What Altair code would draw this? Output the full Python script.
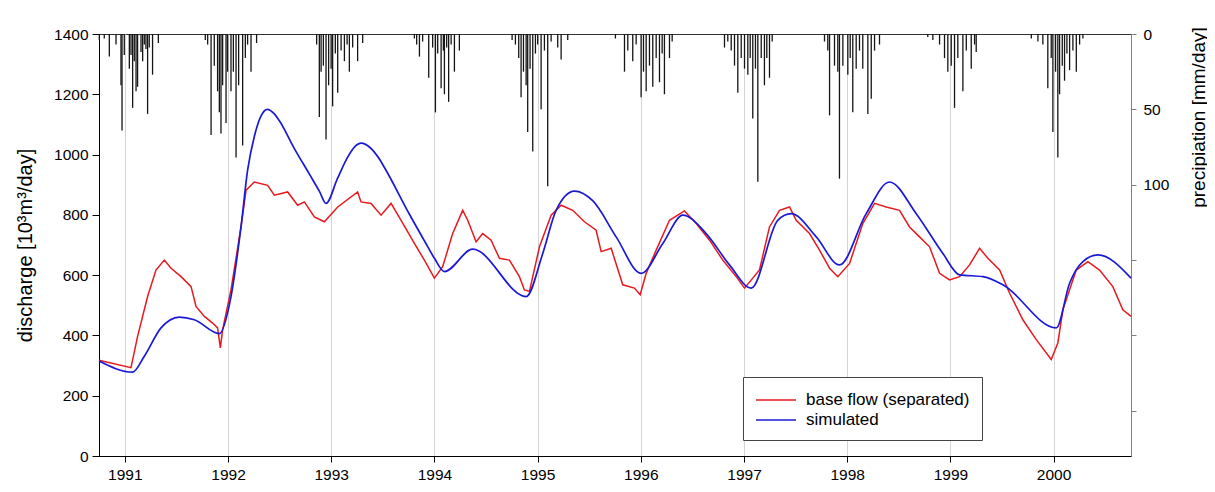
import altair as alt
import pandas as pd

FONT = "Liberation Sans"
RED = "#E8191E"
BLUE = "#1A1AD6"
YEARS = [1991, 1992, 1993, 1994, 1995, 1996, 1997, 1998, 1999, 2000]
SERIES = ["base flow (separated)", "simulated"]

# base flow (separated) - decimal year / discharge [10^3 m3/day]
base_t = [1990.75, 1991.060, 1991.124, 1991.221, 1991.302, 1991.383, 1991.448, 1991.545, 1991.642,
          1991.690, 1991.771, 1991.851, 1991.899, 1991.926, 1991.948, 1992.029, 1992.126, 1992.175,
          1992.255, 1992.384, 1992.449, 1992.578, 1992.675, 1992.740, 1992.837, 1992.934, 1993.063,
          1993.256, 1993.289, 1993.386, 1993.483, 1993.580, 1993.677, 1993.806, 1993.903, 1994.000,
          1994.080, 1994.177, 1994.274, 1994.323, 1994.404, 1994.468, 1994.549, 1994.630, 1994.727,
          1994.824, 1994.872, 1994.921, 1995.018, 1995.131, 1995.228, 1995.340, 1995.454, 1995.567,
          1995.616, 1995.713, 1995.825, 1995.938, 1995.994, 1996.052, 1996.149, 1996.278, 1996.423,
          1996.537, 1996.666, 1996.794, 1996.924, 1997.005, 1997.150, 1997.247, 1997.344, 1997.441,
          1997.506, 1997.635, 1997.732, 1997.829, 1997.909, 1998.023, 1998.151, 1998.265, 1998.378,
          1998.507, 1998.604, 1998.701, 1998.798, 1998.895, 1998.992, 1999.089, 1999.186, 1999.283,
          1999.363, 1999.477, 1999.574, 1999.702, 1999.832, 1999.977, 2000.041, 2000.090, 2000.219,
          2000.332, 2000.445, 2000.574, 2000.671, 2000.75]
base_q = [318, 293, 397, 529, 617, 650, 623, 595, 562,
          496, 463, 441, 425, 359, 419, 551, 760, 882,
          909, 898, 865, 876, 832, 843, 793, 777, 826,
          876, 843, 838, 799, 838, 782, 705, 650, 590,
          628, 738, 815, 782, 711, 738, 716, 656, 650,
          595, 551, 546, 694, 799, 832, 815, 777, 749,
          678, 689, 568, 557, 535, 606, 683, 782, 813,
          771, 716, 650, 595, 557, 617, 760, 815, 826,
          782, 738, 683, 623, 595, 639, 771, 838, 826,
          815, 760, 727, 694, 606, 584, 595, 634, 689,
          656, 617, 540, 452, 386, 320, 375, 485, 617,
          645, 617, 562, 485, 463]

# simulated
sim_t = [1990.75, 1991.076, 1991.189, 1991.351, 1991.528, 1991.674, 1991.916, 1992.029, 1992.126,
         1992.190, 1992.255, 1992.323, 1992.381, 1992.449, 1992.498, 1992.643, 1992.789, 1992.886,
         1992.950, 1993.060, 1993.157, 1993.225, 1993.293, 1993.370, 1993.467, 1993.516, 1993.758,
         1993.903, 1994.000, 1994.097, 1994.371, 1994.889, 1995.050, 1995.179, 1995.357, 1995.534,
         1995.761, 1996.003, 1996.213, 1996.407, 1996.633, 1996.859, 1997.070, 1997.327, 1997.457,
         1997.700, 1997.925, 1998.184, 1998.410, 1998.669, 1998.927, 1999.089, 1999.315, 1999.509,
         2000.026, 2000.155, 2000.284, 2000.430, 2000.75]
sim_q = [315, 278, 331, 425, 461, 452, 406, 529, 760,
         948, 1060, 1130, 1150, 1135, 1112, 1020, 935, 878,
         838, 920, 990, 1025, 1038, 1025, 985, 957, 802,
         714, 656, 612, 686, 529, 672, 815, 879, 847,
         727, 606, 705, 799, 738, 634, 557, 782, 804,
         727, 634, 804, 909, 804, 672, 601, 595, 568,
         425, 573, 645, 667, 590]

# precipitation [mm/day]
rain_t = [1990.753, 1990.801, 1990.850, 1990.915, 1990.963, 1990.973, 1990.995, 1991.044, 1991.060,
          1991.076, 1991.092, 1991.109, 1991.124, 1991.157, 1991.173, 1991.189, 1991.205, 1991.221,
          1991.237, 1991.269, 1991.325,
          1991.780, 1991.803, 1991.836, 1991.867, 1991.899, 1991.916, 1991.932, 1991.948, 1991.981,
          1991.996, 1992.029, 1992.052, 1992.078, 1992.103, 1992.142, 1992.168, 1992.190, 1992.223,
          1992.277,
          1992.859, 1992.885, 1992.902, 1992.924, 1992.950, 1992.975, 1992.999, 1993.014, 1993.040,
          1993.063, 1993.096, 1993.128, 1993.154, 1993.176, 1993.208, 1993.256, 1993.305,
          1993.806, 1993.828, 1993.855, 1993.886, 1993.945, 1993.983, 1994.010, 1994.032, 1994.065,
          1994.087, 1994.097, 1994.119, 1994.138, 1994.162, 1994.194, 1994.242,
          1994.753, 1994.785, 1994.817, 1994.840, 1994.863, 1994.889, 1994.904, 1994.927, 1994.953,
          1994.979, 1995.001, 1995.034, 1995.066, 1995.098, 1995.131, 1995.195, 1995.228, 1995.292,
          1995.754, 1995.842, 1995.874, 1995.922, 1995.955, 1996.003, 1996.026, 1996.052, 1996.084,
          1996.116, 1996.149, 1996.181, 1996.207, 1996.229, 1996.278, 1996.304,
          1996.811, 1996.843, 1996.876, 1996.908, 1996.940, 1996.973, 1997.005, 1997.037, 1997.060,
          1997.085, 1997.111, 1997.134, 1997.167, 1997.198, 1997.221, 1997.247, 1997.273,
          1997.780, 1997.812, 1997.829, 1997.877, 1997.909, 1997.925, 1997.958, 1998.006, 1998.029,
          1998.054, 1998.087, 1998.119, 1998.151, 1998.200, 1998.233, 1998.265, 1998.313,
          1998.781, 1998.830, 1998.895, 1998.943, 1998.975, 1999.008, 1999.040, 1999.072, 1999.121,
          1999.154, 1999.202, 1999.234, 1999.250,
          1999.784, 1999.848, 1999.896, 1999.944, 1999.977, 1999.993, 2000.019, 2000.041, 2000.058,
          2000.084, 2000.106, 2000.129, 2000.155, 2000.187, 2000.220, 2000.252, 2000.284]
rain_mm = [4, 3, 15, 7, 34, 64, 14, 23, 14,
           49, 18, 38, 35, 12, 18, 7, 10, 53,
           9, 27, 6,
           4, 7, 67, 21, 38, 52, 66, 34, 59,
           25, 38, 25, 82, 34, 74, 16, 7, 25,
           6,
           7, 55, 25, 21, 70, 34, 23, 48, 13,
           39, 11, 18, 7, 25, 9, 18, 6,
           3, 7, 15, 5, 29, 9, 52, 13, 36,
           11, 40, 9, 45, 7, 25, 11,
           4, 7, 16, 42, 25, 34, 65, 23, 78,
           13, 7, 50, 11, 101, 5, 9, 17, 4,
           3, 25, 11, 18, 7, 42, 25, 38, 21,
           35, 16, 32, 13, 40, 16, 5,
           9, 5, 11, 21, 39, 16, 23, 27, 16,
           56, 23, 98, 16, 34, 16, 29, 5,
           5, 11, 54, 21, 25, 96, 21, 27, 16,
           52, 23, 11, 23, 53, 43, 11, 7,
           2, 4, 7, 16, 25, 21, 49, 16, 38,
           11, 23, 7, 12,
           3, 5, 7, 36, 16, 65, 25, 82, 40,
           21, 31, 13, 24, 11, 25, 7, 3]

base_df = pd.DataFrame({"t": base_t, "q": base_q, "series": SERIES[0]})
sim_df = pd.DataFrame({"t": sim_t, "q": sim_q, "series": SERIES[1]})
rain_df = pd.DataFrame({"t": rain_t, "mm": rain_mm, "zero": 0})

x_enc = alt.X(
    "t:Q",
    scale=alt.Scale(domain=[1990.75, 2000.75], nice=False, zero=False),
    axis=alt.Axis(values=YEARS, format="d", title=None, grid=True, gridColor="#d4d4d4",
                  tickSize=6, labelFontSize=15.5, labelPadding=5, labelFont=FONT,
                  domainColor="#000", tickColor="#000", labelColor="#000"),
)

rain = alt.Chart(rain_df).mark_rule(color="#151515", strokeWidth=1.3).encode(
    x=x_enc,
    y=alt.Y("mm:Q",
            scale=alt.Scale(domain=[0, 280], reverse=True, nice=False, zero=True),
            axis=alt.Axis(orient="right", values=[0, 50, 100, 150, 200, 250],
                          labelExpr="datum.value <= 100 ? datum.label : ''",
                          title="precipiation [mm/day]", titleAngle=270, titleX=67, titleY=83,
                          titleAlign="center", titleBaseline="middle", titleFontSize=19,
                          titleFontWeight="normal", titleFont=FONT, titleColor="#000",
                          labelFontSize=15.5, labelFont=FONT, labelColor="#000",
                          tickSize=5, labelPadding=7, domainColor="#808080",
                          tickColor="#808080", grid=False)),
    y2="zero:Q",
)

y_left = alt.Y("q:Q",
               scale=alt.Scale(domain=[0, 1400], nice=False),
               axis=alt.Axis(orient="left", values=list(range(0, 1401, 200)), format="d",
                             title="discharge [10³m³/day]", titleAngle=270, titleX=-74,
                             titleY=211, titleAlign="center", titleBaseline="middle",
                             titleFontSize=20, titleFontWeight="normal", titleFont=FONT,
                             titleColor="#000", labelFontSize=15.5, labelFont=FONT,
                             labelColor="#000", tickSize=7, labelPadding=4,
                             domainColor="#000", tickColor="#000", grid=False))

color_enc = alt.Color(
    "series:N",
    scale=alt.Scale(domain=SERIES, range=[RED, BLUE]),
    legend=alt.Legend(title=None, orient="none", legendX=644, legendY=343,
                      direction="vertical", symbolType="M-1,0H3", symbolSize=400,
                      symbolStrokeWidth=1.6, labelFontSize=17, labelFont=FONT,
                      labelColor="#000", labelOffset=29, labelLimit=400, padding=12,
                      strokeColor="#444", fillColor="white", rowPadding=1),
)

base_line = alt.Chart(base_df).mark_line(strokeWidth=1.5, interpolate="linear").encode(
    x=x_enc, y=y_left, color=color_enc)
sim_line = alt.Chart(sim_df).mark_line(strokeWidth=1.7, interpolate="monotone").encode(
    x=x_enc, y=y_left, color=color_enc)

lines = alt.layer(base_line, sim_line)

chart = alt.layer(rain, lines).resolve_scale(y="independent").properties(
    width=1032, height=422,
    padding={"left": 91, "top": 26, "right": 76, "bottom": 28},
    autosize=alt.AutoSizeParams(type="none"),
    background="white",
).configure_view(stroke="#333", strokeWidth=1)

chart.save("out.html", embed_options={"renderer": "svg", "actions": False})
